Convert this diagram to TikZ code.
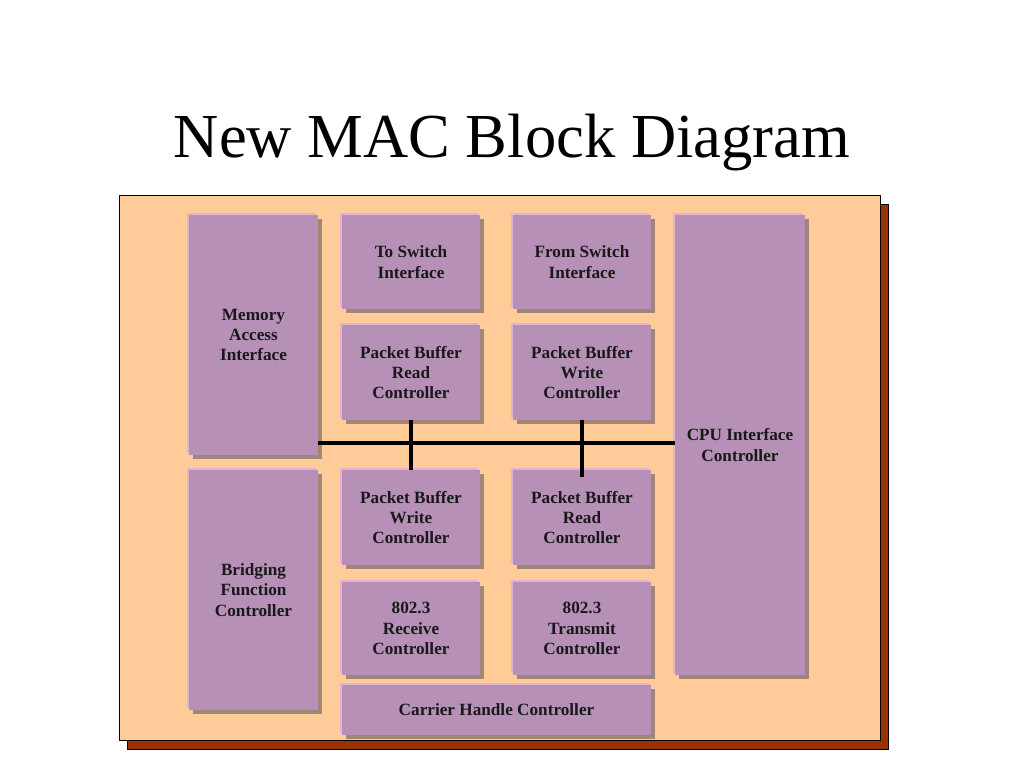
\documentclass[tikz,border=0pt]{standalone}
\usepackage{fontspec}
\setmainfont{Liberation Serif}
\usetikzlibrary{shadows}
\definecolor{panelcol}{RGB}{255,204,153}
\definecolor{panelshadow}{RGB}{153,51,0}
\definecolor{boxcol}{RGB}{183,144,183}
\definecolor{boxshadow}{RGB}{160,134,120}
\definecolor{boxlight}{RGB}{226,178,208}
\tikzset{
  blk/.style={fill=boxcol, inner sep=0pt, align=center,
    font=\fontsize{17.2}{20.3}\selectfont\bfseries, text=black!90,
    general shadow={shadow xshift=3.5pt, shadow yshift=-3.5pt, fill=boxshadow},
    general shadow={shadow xshift=-2pt, shadow yshift=2pt, fill=boxlight}},
  panel/.style={fill=panelcol, draw=black, line width=0.8pt, inner sep=0pt,
    general shadow={shadow xshift=8pt, shadow yshift=-9pt, fill=panelshadow, draw=black, line width=0.8pt}},
  bus/.style={line width=4pt, black}
}
\newcommand{\blkat}[6]{\node[blk, minimum width=#4-#2 pt, minimum height=#5-#3 pt] (#1) at ({(#2+#4)/2},{(#3+#5)/2}) {#6};}
\begin{document}
\begin{tikzpicture}[x=1pt,y=-1pt]
\useasboundingbox[fill=white] (0,0) rectangle (1024,768);
\node[anchor=base, font=\fontsize{62.6}{70}\selectfont] (title) at (512,157) {New MAC Block Diagram};
\node[panel, minimum width=761pt, minimum height=545pt] (panel) at (499.5,467.5) {};
\blkat{mem}{189}{215}{318}{455}{Memory\\Access\\Interface}
\blkat{bfc}{189}{470}{318}{710}{Bridging\\Function\\Controller}
\blkat{tsi}{342}{215}{480}{309}{To Switch\\Interface}
\blkat{fsi}{513}{215}{651}{309}{From Switch\\Interface}
\blkat{pbrA}{342}{325}{480}{420}{Packet Buffer\\Read\\Controller}
\blkat{pbwA}{513}{325}{651}{420}{Packet Buffer\\Write\\Controller}
\blkat{pbwB}{342}{470}{480}{565}{Packet Buffer\\Write\\Controller}
\blkat{pbrB}{513}{470}{651}{565}{Packet Buffer\\Read\\Controller}
\blkat{rx}{342}{582}{480}{675}{802.3\\Receive\\Controller}
\blkat{tx}{513}{582}{651}{675}{802.3\\Transmit\\Controller}
\blkat{chc}{342}{685}{651}{735}{Carrier Handle Controller}
\blkat{cpu}{675}{215}{805}{675}{CPU Interface\\Controller}
\coordinate (busy) at (0,443);
\draw[bus] (mem.east |- busy) -- (cpu.west |- busy);
\draw[bus] (pbrA.south) -- (pbwB.north);
\draw[bus, shorten >=-7pt] (pbwA.south) -- (pbrB.north);
\end{tikzpicture}
\end{document}
